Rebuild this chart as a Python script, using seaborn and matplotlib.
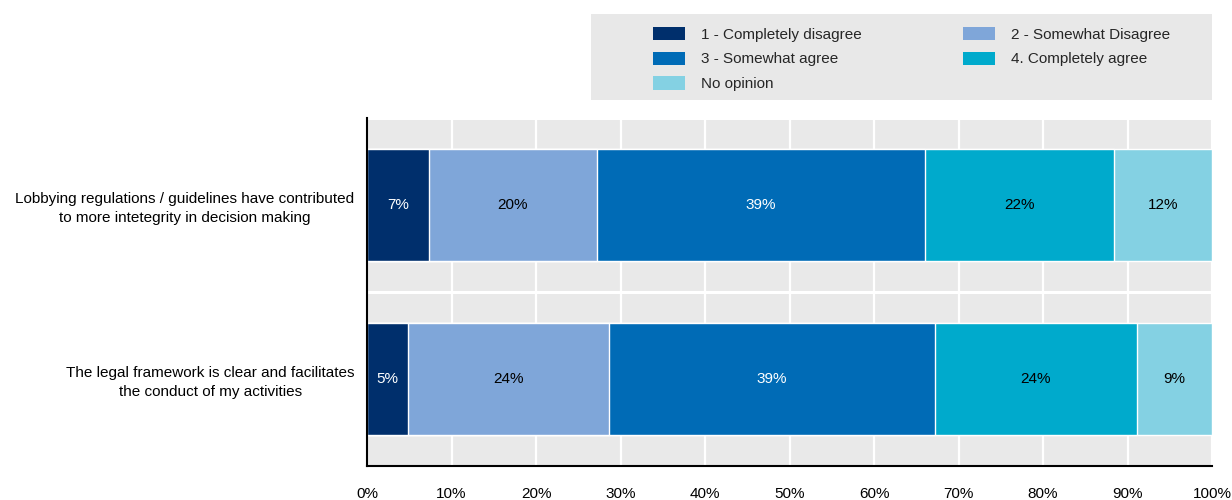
import matplotlib
matplotlib.use("Agg")
import matplotlib.pyplot as plt
from matplotlib.patches import Patch, Rectangle
import numpy as np
import seaborn as sns

# ---------------- data ----------------
statements = [
    "Lobbying regulations / guidelines have contributed\nto more intetegrity in decision making",
    "The legal framework is clear and facilitates\nthe conduct of my activities",
]
responses = ["1 - Completely disagree", "2 - Somewhat Disagree", "3 - Somewhat agree",
             "4. Completely agree", "No opinion"]
completely_disagree = [7.3, 4.9]
somewhat_disagree = [19.9, 23.7]
somewhat_agree = [38.8, 38.6]
completely_agree = [22.4, 23.9]
no_opinion = [11.6, 8.9]
x_ticks = [0, 10, 20, 30, 40, 50, 60, 70, 80, 90, 100]
x_tick_labels = [f"{t}%" for t in x_ticks]

colors = ["#002F6C", "#7FA6D9", "#006BB6", "#00AACC", "#84D1E3"]
text_colors = ["white", "black", "white", "black", "black"]

# ---------------- style ----------------
sns.set_style("white")
plt.rcParams["font.family"] = ["Liberation Sans", "DejaVu Sans"]
fs = 11

fig = plt.figure(figsize=(12.32, 5), dpi=100)
ax = fig.add_axes([367 / 1232, 34 / 500, 845 / 1232, 348 / 500])
ax.set_facecolor("#e9e9e9")

series = [completely_disagree, somewhat_disagree, somewhat_agree, completely_agree, no_opinion]
vals = np.array(series, dtype=float)
cums = np.cumsum(vals, axis=0)

# draw cumulative bars from longest to shortest so segments stack
for i in range(len(series) - 1, -1, -1):
    sns.barplot(x=cums[i], y=statements, orient="h", color=colors[i], saturation=1,
                width=0.64, errorbar=None, ax=ax, zorder=2)

for i in range(len(series)):
    for j in range(len(statements)):
        left = cums[i][j] - vals[i][j]
        ax.text(left + vals[i][j] / 2, j, f"{int(round(vals[i][j]))}%", ha="center", va="center",
                color=text_colors[i], fontsize=fs, zorder=3)

ax.set_xlim(0, 100)
ax.set_ylim(1.5, -0.5)
ax.set_xticks(x_ticks)
ax.set_xticklabels(x_tick_labels)
ax.set_xlabel("")
ax.set_ylabel("")
ax.tick_params(axis="x", direction="in", length=6, width=1, color="black", pad=15,
               labelsize=fs, labelcolor="black")
ax.tick_params(axis="y", which="major", length=0, pad=9, labelsize=fs, labelcolor="black")
ax.set_yticks([-0.5, 0.5, 1.5], minor=True)
ax.tick_params(axis="y", which="minor", direction="out", length=5, width=1, color="black")
for lbl in ax.get_yticklabels():
    lbl.set_multialignment("center")
    lbl.set_linespacing(1.4)

ax.xaxis.grid(True, color="white", lw=1.6)
ax.yaxis.grid(True, which="minor", color="white", lw=2.2)
ax.yaxis.grid(False, which="major")
ax.set_axisbelow(True)

for s in ["top", "right"]:
    ax.spines[s].set_visible(False)
for s in ["left", "bottom"]:
    ax.spines[s].set_visible(True)
    ax.spines[s].set_color("black")
    ax.spines[s].set_linewidth(1.5)

# ---------------- legend ----------------
fig.patches.append(Rectangle((591 / 1232, 0.8), 621 / 1232, 0.172, transform=fig.transFigure,
                             facecolor="#e8e8e8", edgecolor="none", zorder=0))
em = fs * 100 / 72
order = [0, 2, 4, 1, 3]
handles = [Patch(facecolor=colors[k], edgecolor="none") for k in order]
labels = [responses[k] for k in order]
fig.legend(handles, labels, ncol=2, mode="expand", loc="center",
           bbox_to_anchor=(653 / 1232, 0.882 - 0.086, (1170 - 653) / 1232, 0.172),
           frameon=False, borderpad=0, borderaxespad=0, fontsize=fs,
           handlelength=32 / em, handleheight=15 / em, handletextpad=16 / em,
           labelspacing=0.64)

fig.savefig("out.png", dpi=100)
